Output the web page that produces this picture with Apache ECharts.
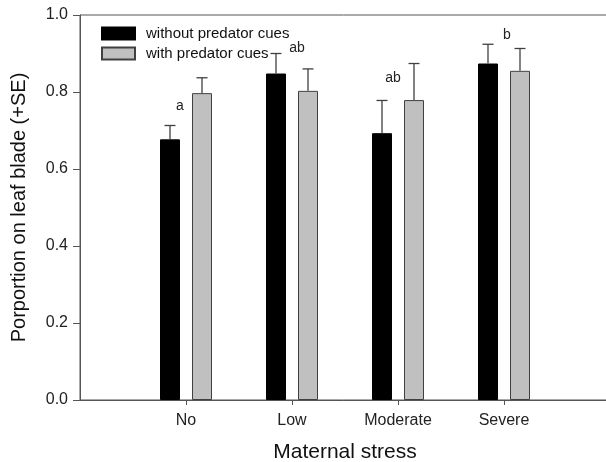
<!DOCTYPE html>
<html>
<head>
<meta charset="utf-8">
<script src="https://cdn.jsdelivr.net/npm/echarts@6/dist/echarts.min.js"></script>
<style>
html,body{margin:0;padding:0;background:#fff;}
#c{width:606px;height:462px;}
</style>
</head>
<body>
<div id="c"></div>
<script>
const categories = ['No', 'Low', 'Moderate', 'Severe'];
const seriesNames = ['without predator cues', 'with predator cues'];
const withoutCues = [0.677, 0.848, 0.693, 0.874];
const withoutCuesSE = [0.036, 0.052, 0.085, 0.050];
const withCues = [0.797, 0.803, 0.779, 0.855];
const withCuesSE = [0.040, 0.057, 0.095, 0.058];
const letters = ['a', 'ab', 'ab', 'b'];
const letterY = [0.764, 0.914, 0.836, 0.948];
const yTicks = [0.0, 0.2, 0.4, 0.6, 0.8, 1.0];

const FONT = '"Liberation Sans", Arial, sans-serif';
const AX = '#555';
const BAR_W = 20, GAP = 12;
const off = (BAR_W + GAP) / 2;
const letterDx = [-6, 5, -5, 3];

const axisCats = [''].concat(categories, ['']);
const pad = arr => [null].concat(arr, [null]);

function errData(vals, se) {
  return vals.map((v, i) => [i + 1, v, se[i]]);
}
function errRender(dx) {
  return function (params, api) {
    const x = api.value(0), v = api.value(1), s = api.value(2);
    const p0 = api.coord([x, v]);
    const p1 = api.coord([x, v + s]);
    const cx = p0[0] + dx;
    const st = { stroke: '#404040', lineWidth: 1.3 };
    return {
      type: 'group',
      children: [
        { type: 'line', shape: { x1: cx, y1: p0[1], x2: cx, y2: p1[1] }, style: st },
        { type: 'line', shape: { x1: cx - 5.5, y1: p1[1], x2: cx + 5.5, y2: p1[1] }, style: st }
      ]
    };
  };
}

const chart = echarts.init(document.getElementById('c'));
chart.setOption({
  animation: false,
  textStyle: { fontFamily: FONT },
  grid: { left: 80, top: 15, width: 530, height: 385, outerBoundsMode: 'none', containLabel: false, show: true, borderColor: AX, borderWidth: 1, backgroundColor: 'transparent' },
  legend: {
    orient: 'vertical', left: 101, top: 26, itemWidth: 33, itemHeight: 12, itemGap: 5, padding: 0,
    icon: 'rect',
    textStyle: { fontSize: 15, lineHeight: 15, color: '#111', fontFamily: FONT, padding: [0, 0, 0, 6] },
    data: seriesNames
  },
  xAxis: {
    type: 'category', data: axisCats, boundaryGap: false,
    axisLine: { lineStyle: { color: AX, width: 1 } },
    axisTick: { length: 5, lineStyle: { color: AX }, interval: (i) => i > 0 && i < axisCats.length - 1 },
    axisLabel: { fontSize: 16, color: '#222', margin: 13, fontFamily: FONT, interval: 0 },
    splitLine: { show: false },
    name: 'Maternal stress', nameLocation: 'middle', nameGap: 42,
    nameTextStyle: { fontSize: 21, color: '#111', fontFamily: FONT }
  },
  yAxis: {
    type: 'value', min: 0, max: 1, interval: 0.2,
    axisLine: { show: true, lineStyle: { color: AX, width: 1 } },
    axisTick: { show: true, length: 7, lineStyle: { color: AX } },
    axisLabel: { fontSize: 16, color: '#222', margin: 12, fontFamily: FONT, formatter: v => v.toFixed(1) },
    splitLine: { show: false },
    name: 'Porportion on leaf blade (+SE)', nameLocation: 'middle', nameGap: 51, nameRotate: 90,
    nameTextStyle: { fontSize: 20, color: '#111', fontFamily: FONT }
  },
  series: [
    {
      name: seriesNames[0], type: 'bar', data: pad(withoutCues), barWidth: BAR_W, barGap: (GAP / BAR_W * 100) + '%',
      itemStyle: { color: '#000', borderColor: '#000', borderWidth: 1 }
    },
    {
      name: seriesNames[1], type: 'bar', data: pad(withCues), barWidth: BAR_W,
      itemStyle: { color: '#c0c0c0', borderColor: '#404040', borderWidth: 1 }
    },
    { type: 'custom', renderItem: errRender(-off), data: errData(withoutCues, withoutCuesSE), z: 3, silent: true },
    { type: 'custom', renderItem: errRender(off), data: errData(withCues, withCuesSE), z: 3, silent: true },
    {
      type: 'custom', silent: true, z: 4,
      data: letters.map((l, i) => [i + 1, letterY[i], i]),
      renderItem: function (params, api) {
        const p = api.coord([api.value(0), api.value(1)]);
        const i = api.value(2);
        return {
          type: 'text',
          style: { text: letters[i], x: p[0] + letterDx[i], y: p[1], align: 'center', verticalAlign: 'middle', fontSize: 14, fontFamily: FONT, fill: '#222' }
        };
      }
    }
  ]
});
</script>
</body>
</html>
